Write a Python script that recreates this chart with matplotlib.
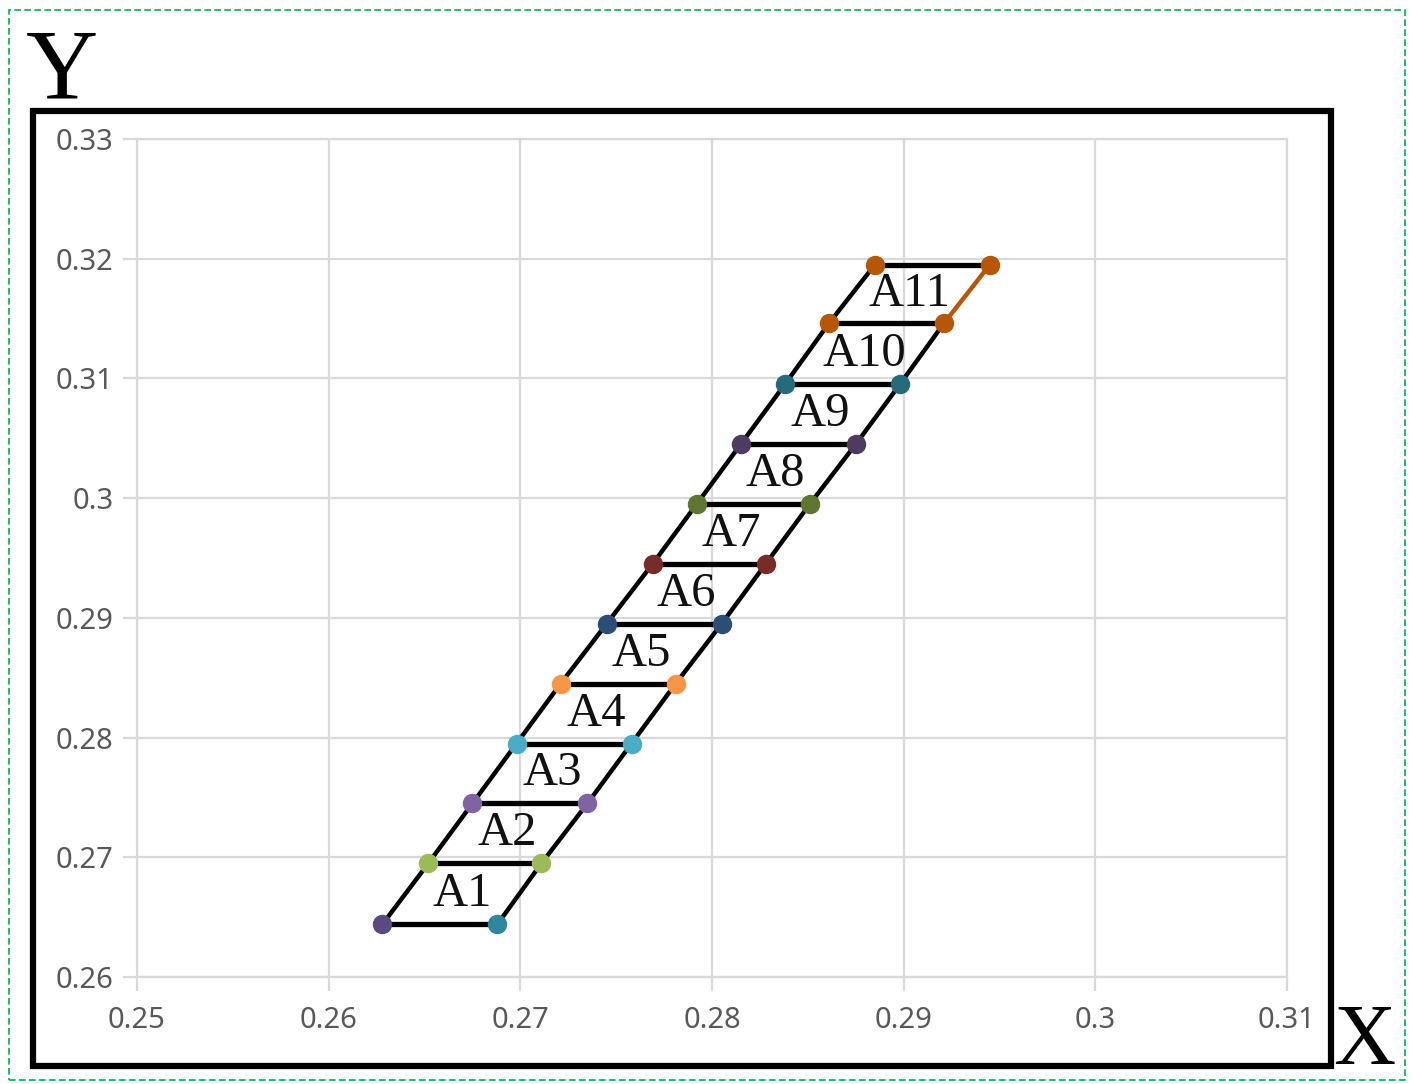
import matplotlib
matplotlib.use('Agg')
import matplotlib.pyplot as plt
from matplotlib.patches import Rectangle
from matplotlib.ticker import FuncFormatter, MultipleLocator

# row data (left point, right point, shared y)
x_left = [0.2628, 0.2652, 0.2675, 0.2698, 0.2721, 0.2745,
          0.2769, 0.2792, 0.2815, 0.2838, 0.2861, 0.2885]
x_right = [0.2688, 0.2711, 0.2735, 0.2758, 0.2781, 0.2805,
           0.2828, 0.2851, 0.2875, 0.2898, 0.2921, 0.2945]
y_rows = [0.2644, 0.2695, 0.2745, 0.2795, 0.2845, 0.2895,
          0.2945, 0.2995, 0.3045, 0.3095, 0.3146, 0.3195]
left_colors = ['#5B4A7E', '#9BBB59', '#8064A2', '#4BACC6', '#F79646', '#2C4D75',
               '#772C2A', '#5F7530', '#4D3B62', '#276A7C', '#B65708', '#B65708']
right_colors = ['#31859C', '#9BBB59', '#8064A2', '#4BACC6', '#F79646', '#2C4D75',
                '#772C2A', '#5F7530', '#4D3B62', '#276A7C', '#B65708', '#B65708']
region_labels = ['A%d' % (i + 1) for i in range(11)]

GRID = '#D9D9D9'

fig = plt.figure(figsize=(14.13, 10.84), dpi=100)
ax = fig.add_axes([0.0970, 0.0987, 0.8138, 0.7731])

# slanted sides
ax.plot(x_left, y_rows, color='black', lw=3.2, zorder=3)
ax.plot(x_right[:-1], y_rows[:-1], color='black', lw=3.2, zorder=3)
ax.plot(x_right[-2:], y_rows[-2:], color='#B65708', lw=3.2, zorder=3)

# horizontal rungs + markers
for i in range(len(y_rows)):
    ax.plot([x_left[i], x_right[i]], [y_rows[i], y_rows[i]], color='black', lw=3.8, zorder=3)
    ax.plot(x_left[i], y_rows[i], 'o', ms=13, color=left_colors[i], zorder=4)
    ax.plot(x_right[i], y_rows[i], 'o', ms=13, color=right_colors[i], zorder=4)

# region labels at quad centroids
for i, lab in enumerate(region_labels):
    cx = (x_left[i] + x_right[i] + x_left[i + 1] + x_right[i + 1]) / 4
    cy = (y_rows[i] + y_rows[i + 1]) / 2
    ax.text(cx, cy, lab, ha='center', va='center', fontsize=35,
            family='Liberation Serif', color='#111111', zorder=5)

ax.set_xlim(0.25, 0.31)
ax.set_ylim(0.26, 0.33)
ax.xaxis.set_major_locator(MultipleLocator(0.01))
ax.yaxis.set_major_locator(MultipleLocator(0.01))
fmt = FuncFormatter(lambda v, p: '%g' % round(v, 3))
ax.xaxis.set_major_formatter(fmt)
ax.yaxis.set_major_formatter(fmt)
ax.grid(True, color=GRID, lw=1.6)
ax.set_axisbelow(True)
for s in ax.spines.values():
    s.set_color(GRID)
    s.set_linewidth(1.6)
ax.tick_params(length=10, width=1.6, color=GRID, labelcolor='#595959',
               labelsize=21, pad=7)
ax.tick_params(axis='x', pad=11)
for t in ax.get_xticklabels() + ax.get_yticklabels():
    t.set_family('Noto Sans')

# outer black frame and green dashed border
fig.patches.append(Rectangle((0.0234, 0.0166), 0.9186, 0.881, transform=fig.transFigure,
                             fill=False, lw=4.5, edgecolor='black', zorder=0))
fig.patches.append(Rectangle((0.0064, 0.004), 0.9880, 0.987, transform=fig.transFigure,
                             fill=False, lw=1.2, edgecolor='#00B050', linestyle=(0, (4, 2)),
                             zorder=0))

fig.text(0.044, 0.9105, 'Y', ha='center', va='baseline', fontsize=72,
         family='Liberation Serif', color='black')
fig.text(0.9655, 0.0185, 'X', ha='center', va='baseline', fontsize=62,
         family='Liberation Serif', color='black')

fig.savefig('out.png', dpi=100)
